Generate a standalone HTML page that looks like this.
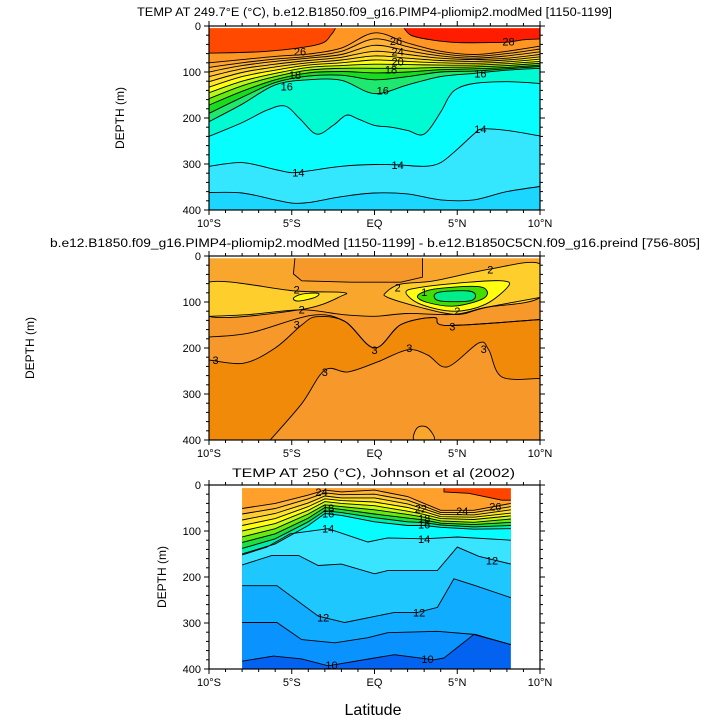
<!DOCTYPE html>
<html><head><meta charset="utf-8"><style>
html,body{margin:0;padding:0;background:#fff;}
svg{display:block;font-family:"Liberation Sans",sans-serif;}
</style></head><body>
<svg id="chart" width="727" height="727" viewBox="0 0 727 727" xmlns="http://www.w3.org/2000/svg">
<g id="p1"></g>
<g id="p2"></g>
<g id="p3"></g>
<text x="373" y="715" font-size="16" text-anchor="middle">Latitude</text>
</svg>
<script>
// ---------- shared axis data ----------
const latTicks = [-10, -5, 0, 5, 10];
const latTickLabels = ["10°S", "5°S", "EQ", "5°N", "10°N"];
const depthTicks = [0, 100, 200, 300, 400];
const depthTickLabels = ["0", "100", "200", "300", "400"];

// ---------- panel 1 data ----------
const p1Lat = [-10, -8, -6, -4, -2, 0, 2, 4, 6, 8, 10];
const p1T26 = [80, 73, 66, 61, 48, 15, 37, 55, 62, 55, 44];
const p1T25 = [90, 80, 72, 66, 55, 28, 45, 60, 66, 60, 50];
const p1T24 = [100, 86, 77, 70, 62, 42, 54, 65, 70, 65, 56];
const p1T23 = [110, 93, 83, 75, 68, 55, 62, 70, 73, 70, 62];
const p1T22 = [121, 101, 89, 80, 74, 65, 70, 75, 77, 74, 67];
const p1T21 = [133, 110, 96, 85, 80, 74, 77, 80, 81, 78, 72];
const p1T20 = [145, 120, 103, 90, 86, 83, 84, 85, 85, 82, 77];
const p1T19 = [158, 130, 110, 96, 92, 92, 92, 90, 89, 86, 81];
const p1T18 = [172, 142, 117, 102, 99, 102, 100, 95, 93, 90, 85];
const p1T17 = [190, 155, 123, 109, 107, 117, 110, 100, 98, 93, 88];
const p1T16 = [208, 170, 128, 117, 118, 147, 128, 110, 103, 96, 92];
const p1WavyLat = [-10, -8, -6.5, -5.4, -4.5, -3.5, -2.5, -1.7, -1, 0, 1, 2, 3, 4, 4.5, 5, 6, 8, 10];
const p1WavyDep = [240, 210, 183, 174, 202, 235, 216, 194, 202, 216, 220, 227, 235, 187, 154, 136, 125, 121, 125];
const p1L14Lat = [-10, -8, -6, -5, -4, -2, 0, 1.5, 3, 4, 5, 6, 6.5, 8, 10];
const p1L14Dep = [305, 297, 312, 319, 315, 305, 301, 302, 305, 297, 268, 235, 224, 227, 239];
const p1BotLat = [-10, -8, -6, -5, -4, -2, 0, 2, 4, 6, 8, 10];
const p1BotDep = [362, 363, 378, 385, 384, 371, 363, 365, 378, 378, 360, 349];
const p1RedLLat = [-10, -6.5, -3.4, -2.6, -2.3];
const p1RedLDep = [59, 55, 40, 18, 0];
const p1RedRLat = [1.7, 2.2, 3.4, 5, 7, 8.1, 9, 10];
const p1RedRDep = [0, 20, 30, 36, 36, 35, 30, 28];
const p1LabelText = ["26","28","26","24","20","18","18","16","16","16","14","14","14"];
const p1LabelLat = [1.3, 8.1, -4.5, 1.4, 1.4, -4.8, 1.0, -5.3, 0.5, 6.4, 6.4, -4.6, 1.4];
const p1LabelDep = [33, 34, 55, 55, 77, 106, 95, 132, 140, 103, 224, 319, 302];

// ---------- panel 2 data ----------
const p2MLat = [-10, -7.5, -4.4, -2, 0, 2, 4.8, 6.7, 10];
const p2MDep = [131, 127, 117, 127, 131, 125, 127, 112, 90];
const p2PLat = [-10, -7.5, -3.8, -1.8, 0, 1.6, 3.6, 4.4, 10];
const p2PDep = [176, 167, 129, 142, 200, 149, 134, 151, 138];
const p2RLat = [-10, -7.9, -6, -4.4, -3.5, -1.8, 0, 1.6, 3.6, 4.4, 10];
const p2RDep = [226, 233, 200, 150, 132, 142, 200, 149, 134, 151, 138];
const p2QLat = [-6.3, -4.4, -3, -1.6, 0.2, 2, 3.2, 4.4, 6.3, 6.9, 7.7, 10];
const p2QDep = [400, 321, 248, 252, 230, 204, 215, 241, 189, 204, 263, 266];
const p2TongueLat = [-4.8, -4.9, -4.4, -1.4, 1.6, 2.9, 2.9];
const p2TongueDep = [0, 39, 54, 57, 57, 46, 0];
const p2BlobLat = [2.4, 2.6, 3.2, 3.6];
const p2BlobDep = [400, 373, 373, 400];
const p2YLLat = [-10, -4.8, -2, -2, -4.4, -10];
const p2YLDep = [57, 76, 79, 87, 116, 131];
const p2YRLat = [0.7, 1.6, 3.6, 6.9, 10, 10, 6.7, 5, 2.8, 0.8];
const p2YRDep = [79, 61, 54, 29, 17, 90, 112, 127, 112, 90];
const p2BYLLat = [-4.9, -4.4, -3.4, -3.6, -4.6];
const p2BYLDep = [92, 83, 81, 90, 98];
const p2BYRLat = [1.9, 2.8, 5.7, 7.7, 8.1, 6.7, 4.8, 2.8];
const p2BYRDep = [79, 68, 57, 54, 65, 105, 120, 105];
const p2GLat = [2.6, 3.6, 6.1, 6.8, 6.5, 4.8, 3.2];
const p2GDep = [87, 72, 66, 76, 94, 109, 101];
const p2ALat = [3.6, 4, 5.7, 6.1, 5.7, 4];
const p2ADep = [87, 78, 76, 87, 98, 98];
const p2LabelText = ["2","2","2","2","2","1","3","3","3","3","3","3","3"];
const p2LabelLat = [-4.7, -4.4, 1.4, 7.0, 5.0, 3.0, -4.7, -9.6, 0.0, 2.1, 4.7, -3.0, 6.6];
const p2LabelDep = [73, 116, 68, 29, 120, 78, 149, 226, 204, 200, 153, 252, 202];

// ---------- panel 3 data ----------
const p3Lat = [-8, -6, -4, -3, -2, 0, 2, 3, 4, 6, 8.24];
const p3T24 = [51, 40, 22, 11, 15, 11, 25, 40, 55, 55, 40];
const p3T23 = [63, 51, 30, 17, 21, 20, 33, 46, 60, 60, 47];
const p3T22 = [76, 62, 39, 24, 28, 28, 41, 52, 64, 65, 54];
const p3T21 = [88, 73, 47, 30, 34, 37, 49, 58, 69, 70, 61];
const p3T20 = [100, 84, 55, 36, 40, 45, 57, 64, 73, 75, 67];
const p3T19 = [113, 95, 63, 43, 47, 54, 64, 70, 78, 81, 74];
const p3T18 = [125, 106, 72, 49, 53, 63, 72, 76, 83, 86, 81];
const p3T17 = [138, 117, 80, 56, 60, 71, 80, 82, 87, 91, 88];
const p3T16 = [150, 128, 88, 62, 66, 80, 88, 88, 92, 96, 95];
const p3ALat = [-8, -6.5, -5.1, -2.8, -0.4, 0.8, 3, 5, 8.24];
const p3ADep = [152, 135, 106, 95, 124, 115, 117, 113, 120];
const p3BLat = [-8, -6.2, -4.6, -3.4, -2, 0, 0.8, 3.8, 5, 6.3, 8.24];
const p3BDep = [174, 153, 153, 175, 172, 193, 186, 186, 135, 155, 172];
const p3CLat = [-8, -5.9, -3.4, -1.8, 1.2, 2.6, 3.8, 4.8, 6.1, 8.24];
const p3CDep = [219, 219, 285, 299, 277, 277, 266, 204, 219, 245];
const p3DLat = [-8, -5.9, -4.4, -2.4, -0.4, 0.8, 3.8, 6.1, 8.24];
const p3DDep = [299, 299, 336, 343, 332, 321, 318, 325, 347];
const p3ELat = [-8, -6.1, -4.4, -2.8, 0, 1.2, 3.6, 4.2, 6, 8.24];
const p3EDep = [383, 372, 378, 393, 376, 369, 380, 376, 325, 347];
const p3RedLat = [4.2, 4.2, 5.7, 7.7, 8.24, 8.24];
const p3RedDep = [6, 15, 18, 33, 33, 6];
const p3LabelText = ["24","18","16","14","14","24","26","22","18","16","12","12","12","10","10"];
const p3LabelLat = [-3.2, -2.8, -2.8, -2.8, 3.0, 5.3, 7.3, 2.8, 3.0, 3.0, 7.1, -3.1, 2.7, -2.6, 3.2];
const p3LabelDep = [15, 50, 62, 95, 117, 57, 47, 51, 73, 86, 164, 288, 277, 391, 378];

// ---------- helpers ----------
const NS = "http://www.w3.org/2000/svg";
const X0 = 209, PW = 331, PH = 184;
function xScale(lat){ return X0 + (lat + 10) / 20 * PW; }
function yScale(top, d){ return top + d / 400 * PH; }
function mk(tag, attrs, parent){
  const e = document.createElementNS(NS, tag);
  for (const k in attrs) e.setAttribute(k, attrs[k]);
  parent.appendChild(e); return e;
}
function pts(top, lats, deps){ return lats.map((l,i)=>[xScale(l), yScale(top, deps[i])]); }
function smooth(p, closed){
  if (p.length < 3) return "M" + p.map(q=>q.join(",")).join("L");
  let s = "M" + p[0][0].toFixed(1) + "," + p[0][1].toFixed(1);
  const n = p.length;
  const last = closed ? n : n - 1;
  for (let i = 0; i < last; i++){
    const p0 = p[closed ? (i-1+n)%n : Math.max(i-1,0)];
    const p1 = p[i], p2 = p[(i+1)%n];
    const p3 = p[closed ? (i+2)%n : Math.min(i+2,n-1)];
    const c1 = [p1[0]+(p2[0]-p0[0])/6, p1[1]+(p2[1]-p0[1])/6];
    const c2 = [p2[0]-(p3[0]-p1[0])/6, p2[1]-(p3[1]-p1[1])/6];
    s += "C" + c1[0].toFixed(1)+","+c1[1].toFixed(1)+" "+c2[0].toFixed(1)+","+c2[1].toFixed(1)+" "+p2[0].toFixed(1)+","+p2[1].toFixed(1);
  }
  return closed ? s + "Z" : s;
}
function poly(p){ return "M" + p.map(q=>q[0].toFixed(1)+","+q[1].toFixed(1)).join("L"); }
function lineD(p, sm){ return sm ? smooth(p,false) : poly(p); }
function fillAbove(g, top, lats, deps, color, sm){
  const p = pts(top, lats, deps);
  const d = lineD(p, sm) + "L" + p[p.length-1][0].toFixed(1) + "," + (top-5) + "L" + p[0][0].toFixed(1) + "," + (top-5) + "Z";
  const e = mk("path", {d: d, fill: color, stroke: "none"}, g);
  
  
}
function fillBelow(g, top, lats, deps, color, sm){
  const p = pts(top, lats, deps);
  const d = lineD(p, sm) + "L" + p[p.length-1][0].toFixed(1) + "," + (top+PH+5) + "L" + p[0][0].toFixed(1) + "," + (top+PH+5) + "Z";
  const e = mk("path", {d: d, fill: color, stroke: "none"}, g);
  
  
}
function blob(g, top, lats, deps, color, stroke, sm){
  const p = pts(top, lats, deps);
  const d = sm ? smooth(p, true) : poly(p) + "Z";
  const e = mk("path", {d: d, fill: color, stroke: stroke ? "#000" : "none", "stroke-width": 0.9}, g);
  
  
}
function line(g, top, lats, deps, sm){
  const e = mk("path", {d: lineD(pts(top, lats, deps), sm), fill: "none", stroke: "#000", "stroke-width": 0.9}, g);
  
  
}
function labels(g, top, txt, lats, deps){
  txt.forEach((t,i)=>{
    const e = mk("text", {x: xScale(lats[i]), y: yScale(top, deps[i]) + 4, "font-size": 11, "text-anchor": "middle", fill: "#000"}, g);
    e.textContent = t;
    
    
  });
}
function axes(g, top, ylabelX){
  const fr = mk("rect", {x: X0, y: top, width: PW, height: PH, fill: "none", stroke: "#000", "stroke-width": 1.2}, g);
  
  
  const tk = mk("g", {stroke: "#000", "stroke-width": 1}, g);
  
  
  for (let l = -10; l <= 10; l++){
    const x = xScale(l), len = (l % 5 === 0) ? 5 : 3;
    mk("line", {x1: x, y1: top, x2: x, y2: top - len}, tk);
    mk("line", {x1: x, y1: top + PH, x2: x, y2: top + PH + len}, tk);
  }
  for (let d = 0; d <= 400; d += 20){
    const y = yScale(top, d), len = (d % 100 === 0) ? 5 : 3;
    mk("line", {x1: X0, y1: y, x2: X0 - len, y2: y}, tk);
    mk("line", {x1: X0 + PW, y1: y, x2: X0 + PW + len, y2: y}, tk);
  }
  latTicks.forEach((l,i)=>{
    const t = mk("text", {x: xScale(l), y: top + PH + 17, "font-size": 11, "text-anchor": "middle"}, g);
    t.textContent = latTickLabels[i];
    
    
  });
  depthTicks.forEach((d,i)=>{
    const t = mk("text", {x: X0 - 8, y: yScale(top, d) + 4, "font-size": 11, "text-anchor": "end"}, g);
    t.textContent = depthTickLabels[i];
    
    
  });
  const yl = mk("text", {x: ylabelX, y: top + PH/2, "font-size": 12, "text-anchor": "middle", transform: "rotate(-90 " + ylabelX + " " + (top + PH/2) + ")"}, g);
  yl.textContent = "DEPTH  (m)";
  
  
}
function title(g, x, y, w, txt){
  const t = mk("text", {x: x, y: y, "font-size": 11.5, textLength: w, lengthAdjust: "spacingAndGlyphs"}, g);
  t.textContent = txt;
  
  
}
function clip(id, x, y, w, h){
  let defs = document.querySelector("#chart defs") || mk("defs", {}, document.getElementById("chart"));
  const c = mk("clipPath", {id: id}, defs);
  mk("rect", {x: x, y: y, width: w, height: h}, c);
}

// ---------- panel 1 ----------
(function(){
  const top = 26, g0 = document.getElementById("p1");
  clip("c1", X0, yScale(top,5), PW, PH - yScale(top,5) + top);
  const g = mk("g", {"clip-path": "url(#c1)"}, g0);
  mk("rect", {x: X0, y: top, width: PW, height: PH, fill: "#1bd6ff"}, g);
  fillAbove(g, top, p1BotLat, p1BotDep, "#35e6ff", true);
  fillAbove(g, top, p1L14Lat, p1L14Dep, "#06feff", true);
  fillAbove(g, top, p1WavyLat, p1WavyDep, "#00fbd2", true);
  const th = [[p1T16,"#1ee870"],[p1T17,"#18dc20"],[p1T18,"#66ea10"],[p1T19,"#b8f818"],[p1T20,"#ffff10"],[p1T21,"#ffe428"],[p1T22,"#ffd030"],[p1T23,"#ffbf36"],[p1T24,"#ffb234"],[p1T25,"#ffa52e"],[p1T26,"#ff9624"]];
  th.forEach(a=>fillAbove(g, top, p1Lat, a[0], a[1], true));
  fillAbove(g, top, p1RedLLat, p1RedLDep, "#ff4800", true);
  fillAbove(g, top, p1RedRLat, p1RedRDep, "#ff1c00", true);
  th.forEach(a=>line(g, top, p1Lat, a[0], true));
  [[p1WavyLat,p1WavyDep],[p1L14Lat,p1L14Dep],[p1BotLat,p1BotDep],[p1RedLLat,p1RedLDep],[p1RedRLat,p1RedRDep]].forEach(a=>line(g, top, a[0], a[1], true));
  labels(g, top, p1LabelText, p1LabelLat, p1LabelDep);
  axes(g0, top, 124);
  title(g0, 137, 16, 475, "TEMP AT 249.7°E (°C), b.e12.B1850.f09_g16.PIMP4-pliomip2.modMed [1150-1199]");
})();

// ---------- panel 2 ----------
(function(){
  const top = 256, g0 = document.getElementById("p2");
  clip("c2", X0, yScale(top,5), PW, PH - yScale(top,5) + top);
  const g = mk("g", {"clip-path": "url(#c2)"}, g0);
  mk("rect", {x: X0, y: top, width: PW, height: PH, fill: "#f9a62c"}, g);
  fillBelow(g, top, p2MLat, p2MDep, "#f6982a", true);
  fillBelow(g, top, p2PLat, p2PDep, "#f6982a", true);
  fillBelow(g, top, p2RLat, p2RDep, "#f08a08", true);
  fillBelow(g, top, p2QLat, p2QDep, "#f6982a", true);
  blob(g, top, p2TongueLat, p2TongueDep, "#f6982a", true, false);
  blob(g, top, p2BlobLat, p2BlobDep, "#f9a62c", true, true);
  blob(g, top, p2YLLat, p2YLDep, "#fdce2c", true, true);
  blob(g, top, p2YRLat, p2YRDep, "#fdce2c", true, true);
  blob(g, top, p2BYLLat, p2BYLDep, "#ffff10", true, true);
  blob(g, top, p2BYRLat, p2BYRDep, "#ffff10", true, true);
  blob(g, top, p2GLat, p2GDep, "#44dd00", true, true);
  blob(g, top, p2ALat, p2ADep, "#00ee8a", true, true);
  [[p2MLat,p2MDep],[p2PLat,p2PDep],[p2RLat,p2RDep],[p2QLat,p2QDep]].forEach(a=>line(g, top, a[0], a[1], true));
  labels(g, top, p2LabelText, p2LabelLat, p2LabelDep);
  axes(g0, top, 34);
  title(g0, 50, 247, 650, "b.e12.B1850.f09_g16.PIMP4-pliomip2.modMed [1150-1199] - b.e12.B1850C5CN.f09_g16.preind [756-805]");
})();

// ---------- panel 3 ----------
(function(){
  const top = 485, g0 = document.getElementById("p3");
  const xa = xScale(p3Lat[0]), xb = xScale(p3Lat[p3Lat.length-1]), ya = yScale(top, 7);
  clip("c3", xa, ya, xb - xa, top + PH - ya);
  const g = mk("g", {"clip-path": "url(#c3)"}, g0);
  mk("rect", {x: X0, y: top, width: PW, height: PH, fill: "#0462f0"}, g);
  fillAbove(g, top, p3ELat, p3EDep, "#0a92ff", false);
  fillAbove(g, top, p3DLat, p3DDep, "#10acff", false);
  fillAbove(g, top, p3CLat, p3CDep, "#1ec8ff", false);
  fillAbove(g, top, p3BLat, p3BDep, "#38e4ff", false);
  fillAbove(g, top, p3ALat, p3ADep, "#06fcff", false);
  const th = [[p3T16,"#00eeaa"],[p3T17,"#1ede40"],[p3T18,"#66ea10"],[p3T19,"#c4f818"],[p3T20,"#ffff10"],[p3T21,"#ffe22a"],[p3T22,"#ffcc34"],[p3T23,"#ffb53a"],[p3T24,"#ff9f2c"]];
  th.forEach(a=>fillAbove(g, top, p3Lat, a[0], a[1], false));
  blob(g, top, p3RedLat, p3RedDep, "#ff4400", false, false);
  th.forEach(a=>line(g, top, p3Lat, a[0], false));
  [[p3ALat,p3ADep],[p3BLat,p3BDep],[p3CLat,p3CDep],[p3DLat,p3DDep],[p3ELat,p3EDep]].forEach(a=>line(g, top, a[0], a[1], false));
  line(g, top, p3RedLat.slice(0,5), p3RedDep.slice(0,5), false);
  labels(g, top, p3LabelText, p3LabelLat, p3LabelDep);
  axes(g0, top, 166);
  title(g0, 232, 477, 283, "TEMP AT 250 (°C), Johnson et al (2002)");
})();
</script>
</body></html>
